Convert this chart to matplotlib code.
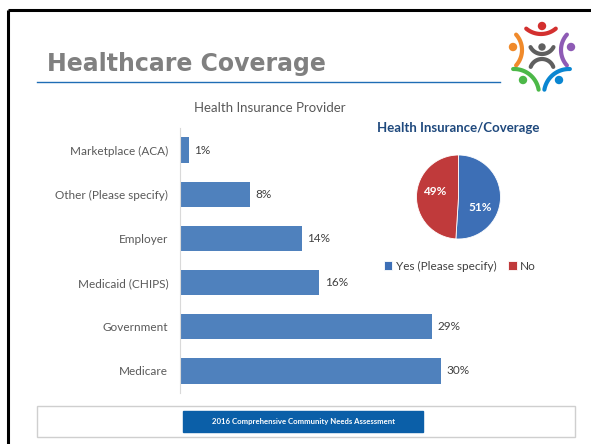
import numpy as np
import matplotlib
matplotlib.use("Agg")
from matplotlib import pyplot as plt
from matplotlib.patches import Rectangle, Circle

# bar chart data
providers = ["Marketplace (ACA)", "Other (Please specify)", "Employer",
             "Medicaid (CHIPS)", "Government", "Medicare"]
provider_pct = [1, 8, 14, 16, 29, 30]

# pie chart data
coverage_labels = ["Yes (Please specify)", "No"]
coverage_pct = [51, 49]

W, H = 591, 444
BAR_BLUE = "#4F81BD"
TXT = "#404040"

plt.rcParams["font.family"] = ["Lato", "DejaVu Sans"]

fig = plt.figure(figsize=(W / 100, H / 100), dpi=100)
fig.patch.set_facecolor("white")


def fx(x):
    return x / W


def fy(y):
    return 1 - y / H


# background / slide decoration in pixel coords
bg = fig.add_axes([0, 0, 1, 1])
bg.set_xlim(0, W)
bg.set_ylim(H, 0)
bg.axis("off")

bg.plot([8, 8], [10, H], color="black", lw=2.2, solid_capstyle="butt")
bg.plot([8, W], [10, 10], color="black", lw=2.2, solid_capstyle="butt")

bg.text(47, 71, "Healthcare Coverage", fontsize=17, fontweight="bold",
        color="#808080", family="DejaVu Sans", ha="left", va="baseline")
bg.plot([37, 500], [82, 82], color="#1F6DB5", lw=1.0)

# logo
def arc(cx, cy, r, t1, t2, color):
    t = np.radians(np.linspace(t1, t2, 40))
    bg.plot(cx + r * np.cos(t), cy + r * np.sin(t), color=color, lw=3.0,
            solid_capstyle="round")


arc(541, 11, 23, 50, 130, "#D3302F")
bg.add_patch(Circle((542, 26), 3.5, color="#D3302F"))
arc(499, 50, 23, -42, 42, "#F08A2B")
bg.add_patch(Circle((513, 47), 3.5, color="#F08A2B"))
arc(584, 50, 23, 138, 222, "#8E5BB5")
bg.add_patch(Circle((571, 47), 3.5, color="#8E5BB5"))
arc(514, 94, 25, -92, -10, "#4CB848")
bg.add_patch(Circle((523, 80), 3.5, color="#4CB848"))
arc(569, 94, 25, -170, -88, "#0A86D1")
bg.add_patch(Circle((559, 80), 3.5, color="#0A86D1"))
bg.add_patch(Circle((542, 47), 3.0, color="#5F5F5F"))
arc(542, 41, 13, 28, 152, "#5F5F5F")
arc(542, 71, 12, 200, 340, "#5F5F5F")

# footer
bg.add_patch(Rectangle((37, 406), 538, 31, fill=False, ec="#CFCFCF", lw=1))
bg.add_patch(Rectangle((183, 411), 240, 21, color="#0B5FA8"))
bg.text(303, 421.5, "2016 Comprehensive Community Needs Assessment",
        color="white", fontsize=5.6, fontweight="bold", ha="center", va="center")

# bar chart
px_per_pct = 8.7
xmax = 35
ax = fig.add_axes([fx(180), fy(393), xmax * px_per_pct / W, 265 / H])
ax.patch.set_alpha(0)
ypos = np.arange(len(providers))
bars = ax.barh(ypos, provider_pct, height=0.57, color=BAR_BLUE)
ax.set_xlim(0, xmax)
ax.set_ylim(len(providers) - 0.5, -0.5)
ax.set_yticks(ypos)
ax.set_yticklabels(providers, fontsize=8.5, color="#595959")
ax.tick_params(axis="y", length=0, pad=8.5)
ax.set_xticks([])
for s in ["top", "right", "bottom"]:
    ax.spines[s].set_visible(False)
ax.spines["left"].set_color("#D9D9D9")
for b, v in zip(bars, provider_pct):
    ax.annotate("{0}%".format(v), (b.get_width(), b.get_y() + b.get_height() / 2),
                xytext=(4, 0), textcoords="offset points", va="center",
                fontsize=8.5, color=TXT)
fig.text(fx(270), fy(108), "Health Insurance Provider", fontsize=9.5,
         color="#595959", ha="center", va="center")

# pie chart
cx, cy, r = 458.5, 197, 42
pax = fig.add_axes([fx(cx - r), fy(cy + r), 2 * r / W, 2 * r / H])
wedges, _, autotexts = pax.pie(coverage_pct, colors=["#3D6FB6", "#C03A3B"],
                               startangle=90, counterclock=False,
                               autopct="%d%%", pctdistance=0.6,
                               wedgeprops=dict(edgecolor="white", linewidth=0.6),
                               textprops=dict(color="white", fontsize=8.5,
                                              fontweight="bold"))
autotexts[0].set_position((0.52, -0.24))
autotexts[1].set_position((-0.56, 0.14))
pax.set_xlim(-1, 1)
pax.set_ylim(-1, 1)

fig.text(fx(458), fy(128), "Health Insurance/Coverage", fontsize=9.5,
         fontweight="bold", color="#1F497D", ha="center", va="center")
fig.legend(wedges, coverage_labels, loc="center", bbox_to_anchor=(fx(460), fy(266)),
           ncol=2, frameon=False, fontsize=8.5, labelcolor=TXT,
           handlelength=0.7, handleheight=0.7, handletextpad=0.3,
           columnspacing=1.0)

fig.savefig("out.png", dpi=100)
